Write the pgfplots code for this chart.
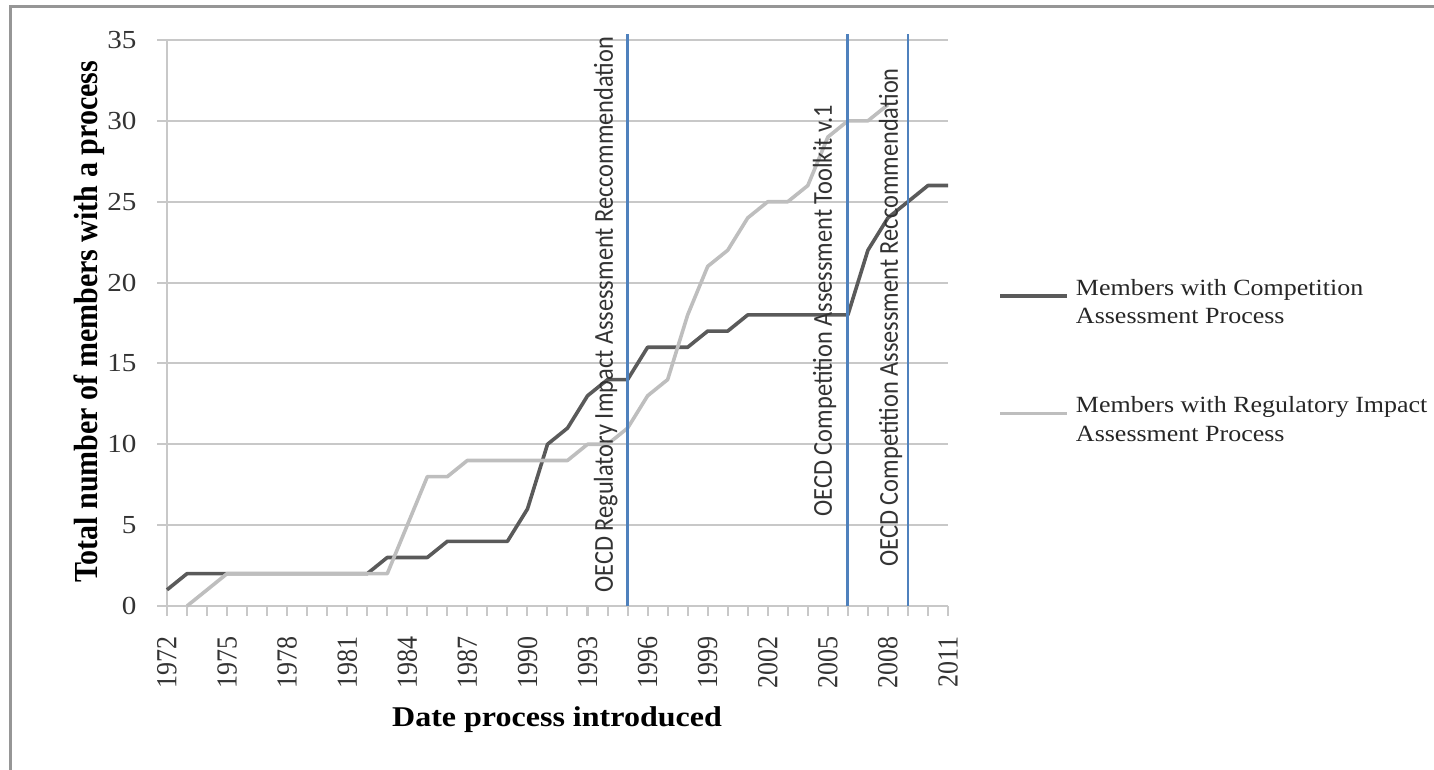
\documentclass[border=0pt]{standalone}
\usepackage{pgfplots}
\pgfplotsset{compat=1.18}
\usepackage{fontspec}
\setmainfont{Liberation Serif}
\newfontfamily\carlito{Carlito}

\definecolor{compdark}{RGB}{90,90,90}
\definecolor{rialight}{RGB}{190,190,190}
\definecolor{gridgray}{RGB}{200,200,200}
\definecolor{oecdblue}{RGB}{79,129,189}
\definecolor{framegray}{RGB}{150,150,150}

% members with a competition assessment process
\pgfplotstableread{
year n
1972 1
1973 2
1974 2
1975 2
1976 2
1977 2
1978 2
1979 2
1980 2
1981 2
1982 2
1983 3
1984 3
1985 3
1986 4
1987 4
1988 4
1989 4
1990 6
1991 10
1992 11
1993 13
1994 14
1995 14
1996 16
1997 16
1998 16
1999 17
2000 17
2001 18
2002 18
2003 18
2004 18
2005 18
2006 18
2007 22
2008 24
2009 25
2010 26
2011 26
}\comptable

% members with a regulatory impact assessment process
\pgfplotstableread{
year n
1973 0
1974 1
1975 2
1976 2
1977 2
1978 2
1979 2
1980 2
1981 2
1982 2
1983 2
1984 5
1985 8
1986 8
1987 9
1988 9
1989 9
1990 9
1991 9
1992 9
1993 10
1994 10
1995 11
1996 13
1997 14
1998 18
1999 21
2000 22
2001 24
2002 25
2003 25
2004 26
2005 29
2006 30
2007 30
2008 31
}\riatable

\tikzset{oecdlabel/.style={font=\carlito\fontsize{12.2}{12.2}\selectfont, text=black!80,
  inner sep=0pt, xscale=1.12, rotate=90, anchor=base west}}

\begin{document}
\begin{tikzpicture}
\begin{axis}[
  scale only axis,
  width=390.5pt, height=283pt,
  at={(83.5pt,82pt)}, anchor=south west,
  xmin=1972, xmax=2011, ymin=0, ymax=35,
  axis x line=bottom, axis y line=left,
  axis line style={draw=gridgray, line width=1pt, -},
  every outer x axis line/.append style={-},
  every outer y axis line/.append style={-},
  xtick={1972,1975,...,2011},
  minor xtick={1972,...,2011},
  ytick={0,5,...,35},
  tick align=outside,
  major tick length=5pt, minor tick length=5pt,
  tick style={draw=gridgray, line width=1pt},
  ymajorgrids,
  major grid style={draw=gridgray, line width=1pt},
  /pgf/number format/1000 sep={},
  /pgf/number format/assume math mode=true,
  ticklabel style={font=\fontsize{13}{13}\selectfont, text=black!80, inner sep=0pt},
  yticklabel style={xshift=-10pt, xscale=1.12, anchor=east},
  xticklabel style={yshift=-10pt, xscale=1.12, rotate=90, anchor=east},
  every axis x label/.style={at={(axis description cs:0.4994,-0.2)}, anchor=center,
    xscale=1.12, font=\bfseries\fontsize{14.3}{14.3}\selectfont},
  every axis y label/.style={at={(axis description cs:-0.1, 0.502)}, anchor=center,
    xscale=1.12, rotate=90, font=\bfseries\fontsize{15}{15}\selectfont},
  xlabel={Date process introduced},
  ylabel={Total number of members with a process},
  legend style={at={(axis description cs:1.064,0.578)}, anchor=north west,
    draw=none, fill=none, inner sep=0pt, column sep=3.5pt, row sep=35pt,
    nodes={inner sep=0pt, align=left, xscale=1.12, text=black!85,
      font=\fontsize{11.6}{14.25}\selectfont}},
  legend cell align=left,
  legend image code/.code={\draw[#1] (0pt,3.5pt) -- (33.5pt,3.5pt);},
  clip=false,
]
\addplot[compdark, line width=1.8pt, line join=round] table[x=year, y=n] {\comptable};
\addlegendentry{Members with Competition\\Assessment Process}
\addplot[rialight, line width=1.8pt, line join=round] table[x=year, y=n] {\riatable};
\addlegendentry{Members with Regulatory Impact\\Assessment Process}

% OECD milestones
\addplot[oecdblue, line width=1.4pt, forget plot] coordinates {(1995,0) (1995,35.4)};
\addplot[oecdblue, line width=1.4pt, forget plot] coordinates {(2006,0) (2006,35.4)};
\addplot[oecdblue, line width=1.4pt, forget plot] coordinates {(2009,0) (2009,35.4)};
\node[oecdlabel] at (axis cs:1994.27,0.80) {OECD Regulatory Impact Assessment Reccommendation};
\node[oecdlabel] at (axis cs:2005.2,5.52) {OECD Competition Assessment Toolkit v.1};
\node[oecdlabel] at (axis cs:2008.5,2.43) {OECD Competition Assessment Reccommendation};
\end{axis}
\draw[framegray, line width=1.5pt] (5.4pt,-10pt) -- (5.4pt,381.75pt) -- (730pt,381.75pt);
\pgfresetboundingbox
\useasboundingbox (0,0) rectangle (717pt,385pt);
\end{tikzpicture}
\end{document}
